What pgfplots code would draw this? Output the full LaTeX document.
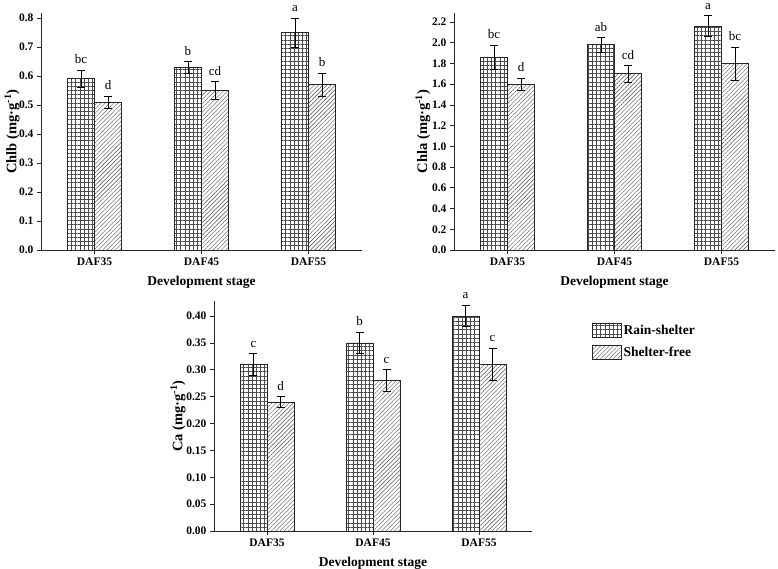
\documentclass[border=0pt]{standalone}
\usepackage{pgfplots}
\pgfplotsset{compat=1.18}
\usepackage{pgfplotstable}
\usepackage{fontspec}
\setmainfont{Liberation Serif}
\usetikzlibrary{patterns.meta}

\pgfplotstableread{
x r re s se rl sl
1 0.59 0.03 0.51 0.02 bc d
2 0.63 0.02 0.55 0.03 b cd
3 0.75 0.05 0.57 0.04 a b
}\chlb
\pgfplotstableread{
x r re s se rl sl
1 1.86 0.12 1.60 0.06 bc d
2 1.98 0.07 1.70 0.08 ab cd
3 2.16 0.10 1.80 0.16 a bc
}\chla
\pgfplotstableread{
x r re s se rl sl
1 0.31 0.02 0.24 0.01 c d
2 0.35 0.02 0.28 0.02 b c
3 0.40 0.02 0.31 0.03 a c
}\ca

\colorlet{ink}{black!85}
\pgfplotsset{
  panel/.style={
    scale only axis, anchor=south west,
    xmin=0.5, xmax=3.5, ymin=0,
    axis x line*=bottom, axis y line*=left,
    axis line style={-, line width=0.8pt, ink},
    xtick={1,2,3}, xticklabels={DAF35,DAF45,DAF55},
    tick align=outside, major tick length=4pt,
    tick style={ink, line width=0.8pt},
    ticklabel style={font=\fontsize{11.5}{12}\selectfont\bfseries},
    label style={font=\fontsize{13.5}{14}\selectfont\bfseries},
    ylabel style={font=\fontsize{14.5}{15}\selectfont\bfseries},
    xlabel={Development stage},
    xlabel style={at={(axis description cs:0.5,0)}, anchor=center, yshift=-32pt},
    /pgf/number format/assume math mode=true,
    yticklabel style={/pgf/number format/fixed, /pgf/number format/fixed zerofill},
    clip=false,
  },
  rainbar/.style={ybar, bar width=27pt, bar shift=-13.5pt, draw=ink, line width=0.7pt,
    pattern={Hatch[angle=0, distance=4.2pt, line width=0.4pt]}, pattern color=black!70,
    legend image code/.code={\draw[draw=ink, line width=0.7pt, pattern={Hatch[angle=0, distance=4.2pt, line width=0.4pt]}, pattern color=black!70] (0pt,-7pt) rectangle (29pt,7pt);}},
  shelterbar/.style={ybar, bar width=27pt, bar shift=13.5pt, draw=ink, line width=0.7pt,
    pattern={Lines[angle=45, distance=3pt, line width=0.4pt]}, pattern color=black!70,
    legend image code/.code={\draw[draw=ink, line width=0.7pt, pattern={Lines[angle=45, distance=3pt, line width=0.4pt]}, pattern color=black!70] (0pt,-7pt) rectangle (29pt,7pt);}},
  errs/.style={draw=none, mark=none, forget plot,
    error bars/.cd, y dir=both, y explicit, error mark=-,
    error bar style={draw=black, line width=0.6pt, solid},
    error mark options={draw=black, line width=0.6pt, mark size=4pt, rotate=90}},
  letters/.style={draw=none, mark=none, forget plot, point meta=explicit symbolic,
    nodes near coords,
    nodes near coords style={anchor=south, inner sep=1pt, yshift=5pt,
      font=\fontsize{13}{13}\selectfont, text=black}},
}

\begin{document}
\begin{tikzpicture}
\path[use as bounding box] (0pt,0pt) rectangle (778pt,569pt);

% Panel 1: Chlb
\begin{axis}[panel, at={(41pt,319pt)}, width=321pt, height=237pt,
  ymax=0.817, ytick={0,0.1,...,0.8},
  yticklabel style={/pgf/number format/precision=1},
  ylabel={Chlb (mg·g\textsuperscript{-1})},
  ylabel style={at={(axis description cs:-0.09,0.5)}, anchor=center}]
\addplot[rainbar] table[x=x, y=r] {\chlb};
\addplot[shelterbar] table[x=x, y=s] {\chlb};
\addplot[errs] table[x expr=\thisrow{x}-0.1262, y=r, y error=re] {\chlb};
\addplot[errs] table[x expr=\thisrow{x}+0.1262, y=s, y error=se] {\chlb};
\addplot[letters] table[x expr=\thisrow{x}-0.1262, y expr=\thisrow{r}+\thisrow{re}, meta=rl] {\chlb};
\addplot[letters] table[x expr=\thisrow{x}+0.1262, y expr=\thisrow{s}+\thisrow{se}, meta=sl] {\chlb};
\end{axis}

% Panel 2: Chla
\begin{axis}[panel, at={(454pt,319pt)}, width=321pt, height=237pt,
  ymax=2.287, ytick={0,0.2,...,2.2},
  yticklabel style={/pgf/number format/precision=1},
  ylabel={Chla (mg·g\textsuperscript{-1})},
  ylabel style={at={(axis description cs:-0.097,0.5)}, anchor=center}]
\addplot[rainbar] table[x=x, y=r] {\chla};
\addplot[shelterbar] table[x=x, y=s] {\chla};
\addplot[errs] table[x expr=\thisrow{x}-0.1262, y=r, y error=re] {\chla};
\addplot[errs] table[x expr=\thisrow{x}+0.1262, y=s, y error=se] {\chla};
\addplot[letters] table[x expr=\thisrow{x}-0.1262, y expr=\thisrow{r}+\thisrow{re}, meta=rl] {\chla};
\addplot[letters] table[x expr=\thisrow{x}+0.1262, y expr=\thisrow{s}+\thisrow{se}, meta=sl] {\chla};
\end{axis}

% Panel 3: Ca
\begin{axis}[panel, at={(214pt,38pt)}, width=318pt, height=230pt,
  ymax=0.428, ytick={0,0.05,...,0.40},
  yticklabel style={/pgf/number format/precision=2},
  ylabel={Ca (mg·g\textsuperscript{-1})},
  ylabel style={at={(axis description cs:-0.113,0.5)}, anchor=center},
  legend style={at={(axis description cs:1.188,0.905)}, anchor=north west,
    draw=none, fill=none, inner sep=0pt, row sep=7pt,
    font=\fontsize{13.5}{14}\selectfont\bfseries,
    cells={anchor=west}},
  legend cell align=left]
\addplot[rainbar] table[x=x, y=r] {\ca};
\addplot[shelterbar] table[x=x, y=s] {\ca};
\addplot[errs] table[x expr=\thisrow{x}-0.1274, y=r, y error=re] {\ca};
\addplot[errs] table[x expr=\thisrow{x}+0.1274, y=s, y error=se] {\ca};
\addplot[letters] table[x expr=\thisrow{x}-0.1274, y expr=\thisrow{r}+\thisrow{re}, meta=rl] {\ca};
\addplot[letters] table[x expr=\thisrow{x}+0.1274, y expr=\thisrow{s}+\thisrow{se}, meta=sl] {\ca};
\legend{Rain-shelter, Shelter-free}
\end{axis}
\end{tikzpicture}
\end{document}
